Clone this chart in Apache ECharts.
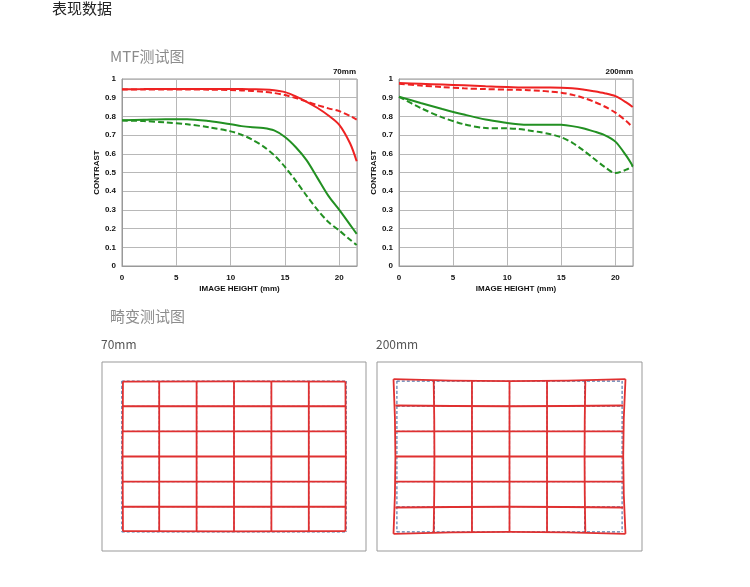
<!DOCTYPE html>
<html>
<head>
<meta charset="utf-8">
<script src="https://cdn.jsdelivr.net/npm/echarts@6/dist/echarts.min.js"></script>
<style>
  html, body { margin: 0; padding: 0; background: #fff; }
  #main { width: 750px; height: 587px; }
</style>
</head>
<body>
<div id="main"></div>
<script>
// image height positions (mm) where the MTF curves were read
const imageHeight = [0, 2, 4, 6, 8, 10, 11, 12, 13, 14, 15, 16, 17, 18, 19, 20, 21, 21.6];

// 70mm
const red70Solid = [0.945, 0.946, 0.947, 0.947, 0.947, 0.946, 0.946, 0.945, 0.944, 0.94, 0.93, 0.907, 0.878, 0.845, 0.805, 0.755, 0.655, 0.56];
const red70Dash = [0.944, 0.944, 0.944, 0.944, 0.943, 0.941, 0.939, 0.936, 0.932, 0.925, 0.914, 0.898, 0.879, 0.86, 0.843, 0.828, 0.802, 0.783];
const green70Solid = [0.78, 0.782, 0.785, 0.785, 0.775, 0.758, 0.748, 0.742, 0.738, 0.725, 0.69, 0.635, 0.565, 0.47, 0.375, 0.3, 0.22, 0.172];
const green70Dash = [0.778, 0.775, 0.768, 0.758, 0.742, 0.72, 0.702, 0.675, 0.64, 0.593, 0.53, 0.455, 0.375, 0.3, 0.235, 0.19, 0.14, 0.112];

// 200mm
const red200Solid = [0.978, 0.974, 0.97, 0.966, 0.961, 0.957, 0.955, 0.954, 0.954, 0.954, 0.953, 0.95, 0.944, 0.935, 0.924, 0.908, 0.875, 0.85];
const red200Dash = [0.975, 0.965, 0.957, 0.95, 0.946, 0.943, 0.942, 0.94, 0.937, 0.933, 0.927, 0.916, 0.9, 0.879, 0.853, 0.82, 0.775, 0.742];
const green200Solid = [0.905, 0.872, 0.84, 0.81, 0.783, 0.765, 0.758, 0.755, 0.755, 0.756, 0.755, 0.748, 0.737, 0.72, 0.7, 0.665, 0.59, 0.535];
const green200Dash = [0.905, 0.845, 0.795, 0.758, 0.738, 0.736, 0.733, 0.725, 0.716, 0.705, 0.688, 0.66, 0.62, 0.575, 0.53, 0.497, 0.515, 0.535];

const xTicks = [0, 5, 10, 15, 20];

// distortion chart: ideal grid lines (cell units), drawn blue dashed
const gridSteps = [-3, -2, -1, 0, 1, 2, 3];
// red lines as measured: verticals give x at top / middle / bottom,
// horizontals (top to bottom) give y at left / middle / right
const red70Cols = [[-2.97, -2.98, -2.97], [-2, -2, -2], [-1, -1, -1], [0, 0, 0], [1, 1, 1], [2, 2, 2], [2.98, 2.99, 2.98]];
const red70Rows = [[2.98, 2.99, 2.98], [2, 2, 2], [1, 1, 1], [0, 0, 0], [-1, -1, -1], [-2, -2, -2], [-2.97, -2.98, -2.97]];
const red200Cols = [[-3.09, -3.04, -3.09], [-2.02, -2, -2.02], [-1, -1, -1], [0, 0, 0], [1, 1, 1], [2.02, 2, 2.02], [3.09, 3.03, 3.09]];
const red200Rows = [[3.08, 3.0, 3.08], [2.03, 2, 2.03], [1, 1, 1], [0, 0, 0], [-1, -1, -1], [-2.03, -2, -2.03], [-3.08, -3.0, -3.08]];

const RED = "#ee2222";
const GREEN = "#229022";
const AXIS_FONT = "Liberation Sans";
const CJK_FONT = "Noto Sans CJK SC";

const pairs = (ys) => imageHeight.map((x, i) => [x, ys[i]]);

const mtfLine = (idx, ys, color, dashed) => ({
  type: "line",
  xAxisIndex: idx,
  yAxisIndex: idx,
  data: pairs(ys),
  smooth: 0.3,
  showSymbol: false,
  silent: true,
  lineStyle: { color: color, width: 2, type: dashed ? [6, 3] : "solid" },
  z: dashed ? 3 : 4,
});

const pick = (arr, k) => (k === 0 ? arr[0] : k === 6 ? arr[2] : arr[1]);

const distortionSeries = (idx, cols, rows) => {
  let out = [];
  const line = (data, style) => ({
    type: "line",
    xAxisIndex: idx,
    yAxisIndex: idx,
    data: data,
    showSymbol: false,
    silent: true,
    smooth: 0.5,
    lineStyle: style,
  });
  const blue = { color: "#5577aa", width: 1.2, type: [3, 2] };
  const red = { color: "#e03030", width: 1.8, type: "solid" };
  gridSteps.forEach((v) => {
    out.push(line([[v, 3], [v, -3]], blue));
    out.push(line([[-3, v], [3, v]], blue));
  });
  cols.forEach((c, k) => {
    out.push(line([[c[0], pick(rows[0], k)], [c[1], 0], [c[2], pick(rows[6], k)]], red));
  });
  rows.forEach((r, k) => {
    out.push(line([[pick(cols[0], k), r[0]], [0, r[1]], [pick(cols[6], k), r[2]]], red));
  });
  return out;
};

const mtfX = (idx) => ({
  type: "value",
  gridIndex: idx,
  min: 0,
  max: 21.63,
  interval: 5,
  name: "IMAGE HEIGHT (mm)",
  nameLocation: "middle",
  nameGap: 19,
  nameTextStyle: { fontSize: 8, fontWeight: "bold", color: "#111", fontFamily: AXIS_FONT },
  axisLine: { lineStyle: { color: "#999" } },
  axisTick: { show: false },
  axisLabel: {
    fontSize: 8, fontWeight: "bold", color: "#111", fontFamily: AXIS_FONT, margin: 8,
    formatter: (v) => (xTicks.indexOf(v) >= 0 ? String(v) : ""),
  },
  splitLine: { lineStyle: { color: "#b8b8b8" } },
});

const mtfY = (idx) => ({
  type: "value",
  gridIndex: idx,
  min: 0,
  max: 1,
  interval: 0.1,
  name: "CONTRAST",
  nameLocation: "middle",
  nameGap: 21,
  nameTextStyle: { fontSize: 8, fontWeight: "bold", color: "#111", fontFamily: AXIS_FONT },
  axisLine: { show: true, lineStyle: { color: "#999" } },
  axisTick: { show: false },
  axisLabel: {
    fontSize: 8, fontWeight: "bold", color: "#111", fontFamily: AXIS_FONT, margin: 6,
    formatter: (v) => (v === 0 ? "0" : v >= 1 ? "1" : v.toFixed(1)),
  },
  splitLine: { lineStyle: { color: "#b8b8b8" } },
});

const hiddenX = (idx) => ({ type: "value", gridIndex: idx, min: -3.53, max: 3.53, show: false });
const hiddenY = (idx) => ({ type: "value", gridIndex: idx, min: -3.76, max: 3.76, show: false });

const text = (t, x, y, size, color) => ({
  type: "text",
  x: x,
  y: y,
  silent: true,
  style: {
    text: t,
    fontSize: size,
    fontFamily: CJK_FONT,
    fill: color,
    align: "left",
    verticalAlign: "middle",
  },
});

const focalTag = (t, x) => ({
  type: "text",
  x: x,
  y: 72,
  silent: true,
  style: { text: t, fontSize: 8, fontWeight: "bold", fontFamily: AXIS_FONT, fill: "#111", align: "right", verticalAlign: "middle" },
});

let option = {
  animation: false,
  backgroundColor: "#fff",
  grid: [
    { left: 122, top: 79, width: 235, height: 187, show: true, borderColor: "#999", borderWidth: 1 },
    { left: 399, top: 79, width: 234, height: 187, show: true, borderColor: "#999", borderWidth: 1 },
    { left: 102, top: 362, width: 264, height: 189, show: true, borderColor: "#999", borderWidth: 1 },
    { left: 377, top: 362, width: 265, height: 189, show: true, borderColor: "#999", borderWidth: 1 },
  ],
  xAxis: [mtfX(0), mtfX(1), hiddenX(2), hiddenX(3)],
  yAxis: [mtfY(0), mtfY(1), hiddenY(2), hiddenY(3)],
  graphic: [
    text("表现数据", 52, 8, 15, "#222"),
    text("MTF测试图", 110, 56, 15, "#8c8c8c"),
    text("畸变测试图", 110, 316, 15, "#8c8c8c"),
    text("70mm", 101, 344, 12, "#555"),
    text("200mm", 376, 344, 12, "#555"),
    focalTag("70mm", 356),
    focalTag("200mm", 633),
  ],
  series: [
    mtfLine(0, red70Dash, RED, true),
    mtfLine(0, red70Solid, RED, false),
    mtfLine(0, green70Dash, GREEN, true),
    mtfLine(0, green70Solid, GREEN, false),
    mtfLine(1, red200Dash, RED, true),
    mtfLine(1, red200Solid, RED, false),
    mtfLine(1, green200Dash, GREEN, true),
    mtfLine(1, green200Solid, GREEN, false),
    ...distortionSeries(2, red70Cols, red70Rows),
    ...distortionSeries(3, red200Cols, red200Rows),
  ],
};

const chart = echarts.init(document.getElementById("main"));
chart.setOption(option);
</script>
</body>
</html>
